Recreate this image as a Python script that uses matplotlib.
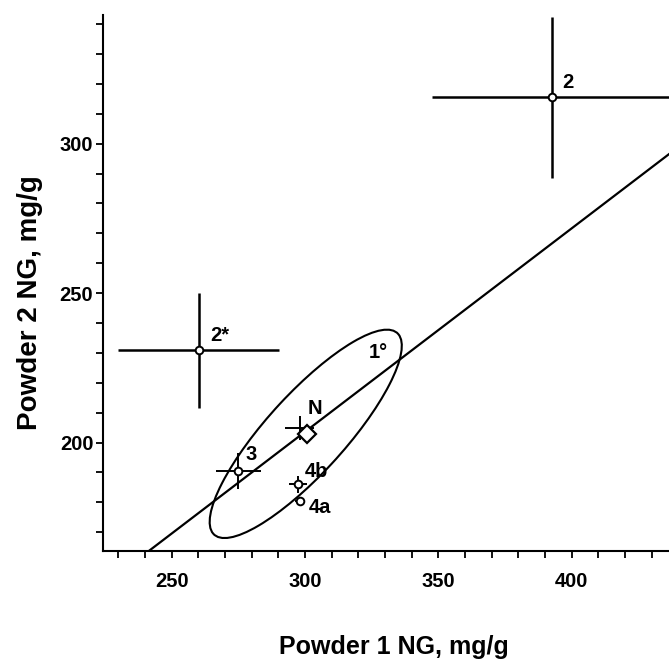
import numpy as np
import matplotlib.pyplot as plt
from matplotlib.patches import Ellipse

# data
names = ['2', '2*', '3', 'N', '4b', '4a']
x_vals = [392.6, 260.1, 275.0, 298.0, 297.5, 298.1]
y_vals = [315.5, 230.8, 190.4, 205.0, 186.0, 180.4]
x_err = [45.0, 30.3, 8.4, 5.3, 3.4, 1.7]
y_err = [27.0, 19.4, 6.0, 4.0, 2.8, 0.0]

n_diamond = (300.6, 202.7)

# regression line y = a + b*x
line_b = 0.681
line_a = -0.74

# confidence ellipse (1°)
ell_center = (300.3, 202.9)
ell_width = 96.3
ell_height = 27.9
ell_angle = 43.9

labels = ['2', '2*', '1°', 'N', '3', '4b', '4a']
label_x = [398.6, 268.1, 327.5, 303.8, 280.0, 304.3, 305.6]
label_y = [320.4, 235.8, 230.2, 211.3, 196.0, 190.3, 178.3]

xlim = (224.3, 436.5)
ylim = (163.7, 343.0)

font = ['Liberation Sans', 'DejaVu Sans']

fig = plt.figure(figsize=(6.69, 6.62), dpi=100)
ax = fig.add_axes([0.154, 0.1677, 0.846, 0.8093])

# regression line
lx = np.array(xlim)
ax.plot(lx, line_a + line_b * lx, color='black', lw=1.6, zorder=2)

# ellipse
ax.add_patch(Ellipse(ell_center, ell_width, ell_height, angle=ell_angle,
                     fill=False, edgecolor='black', lw=1.5, zorder=2))

# points with error bars
for i in range(len(names)):
    lw = 1.8 if names[i] in ('2', '2*') else 1.4
    ax.errorbar(x_vals[i], y_vals[i], xerr=x_err[i], yerr=y_err[i] if y_err[i] > 0 else None,
                fmt='none', ecolor='black', elinewidth=lw, capsize=0, zorder=3)
    if names[i] != 'N':
        ax.plot(x_vals[i], y_vals[i], 'o', ms=5.5, mfc='white', mec='black', mew=1.4, zorder=4)

ax.plot(n_diamond[0], n_diamond[1], 'D', ms=9, mfc='white', mec='black', mew=1.6, zorder=4)

for t, lx_, ly_ in zip(labels, label_x, label_y):
    ax.text(lx_, ly_, t, ha='center', va='center', fontsize=14.5, fontweight='bold',
            family=font, zorder=5)

ax.set_xlim(*xlim)
ax.set_ylim(*ylim)

ax.spines['top'].set_visible(False)
ax.spines['right'].set_visible(False)
ax.spines['left'].set_linewidth(1.5)
ax.spines['bottom'].set_linewidth(1.5)

ax.set_xticks([250, 300, 350, 400])
ax.set_xticks(np.arange(230, 440, 10), minor=True)
ax.set_yticks([200, 250, 300])
ax.set_yticks(np.arange(170, 350, 10), minor=True)
ax.tick_params(which='both', direction='out', length=5, width=1.3, color='black')
ax.tick_params(axis='x', pad=10)
ax.tick_params(axis='y', pad=2)
for lab in ax.get_xticklabels() + ax.get_yticklabels():
    lab.set_fontfamily(font)
    lab.set_fontweight('bold')
    lab.set_fontsize(14.5)

fig.text(0.5893, 1 - 647 / 662, 'Powder 1 NG, mg/g', ha='center', va='center',
         fontsize=18, fontweight='bold', family=font)
fig.text(30 / 669, 1 - 303 / 662, 'Powder 2 NG, mg/g', ha='center', va='center',
         rotation=90, fontsize=20, fontweight='bold', family=font)

fig.savefig('out.png', dpi=100)
